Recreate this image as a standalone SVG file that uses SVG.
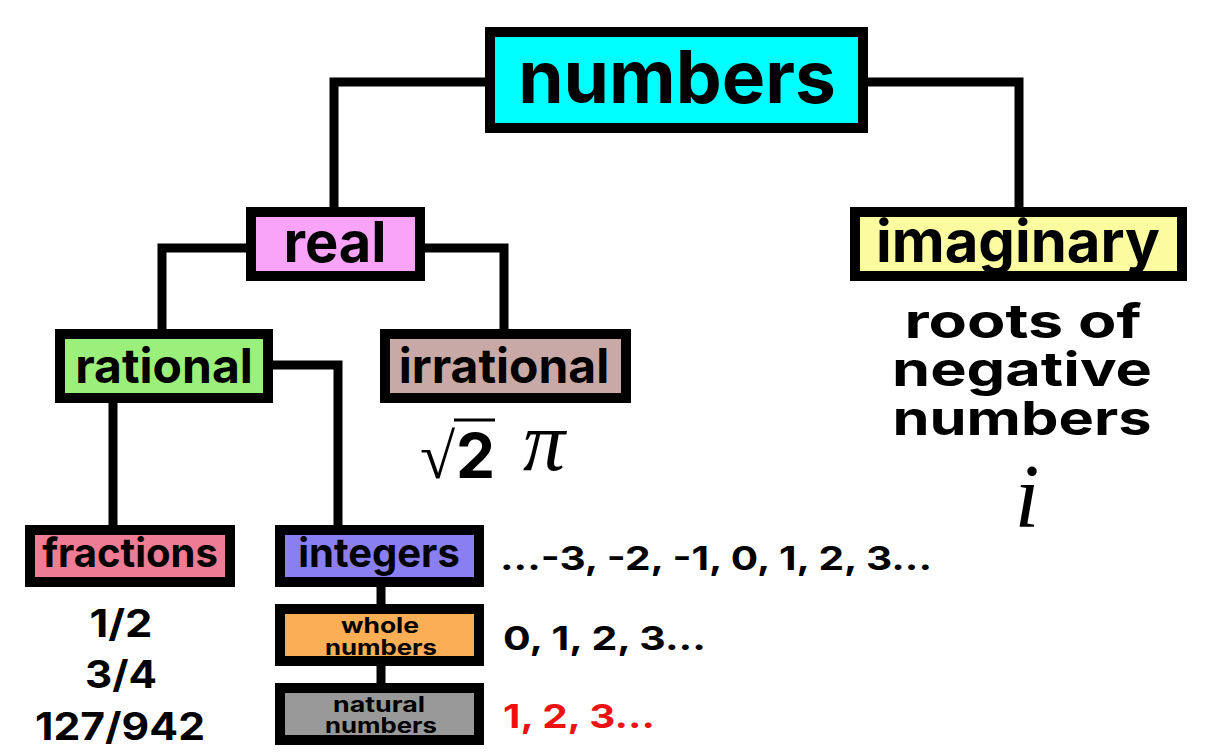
<svg xmlns="http://www.w3.org/2000/svg" width="1222" height="756" viewBox="0 0 1222 756">
<style>
.box{stroke:#000;stroke-width:10}
.lbl{font-family:Inter,"Open Sans","Liberation Sans",sans-serif;font-weight:700;fill:#000;text-anchor:middle}
.txt{font-family:Inter,"Open Sans","Liberation Sans",sans-serif;font-weight:700;fill:#000}
.con{fill:none;stroke:#000;stroke-width:9;stroke-linejoin:miter;stroke-linecap:butt}
</style>
<rect width="1222" height="756" fill="#fff"/>
<g id="connectors">
<path class="con" d="M490 82 H334 V212"/>
<path class="con" d="M863 82 H1019 V212"/>
<path class="con" d="M251 248 H162 V334"/>
<path class="con" d="M420 248 H504 V334"/>
<path class="con" d="M113 398 V530"/>
<path class="con" d="M268 365 H338 V530"/>
<path class="con" d="M381 582 V609"/>
<path class="con" d="M381 661 V688"/>
</g>
<g id="numbers">
<rect class="box" x="490" y="32" width="373" height="96" fill="#00FFFF"/>
<text class="lbl" x="677" y="103" font-size="73">numbers</text>
</g>
<g id="real">
<rect class="box" x="251" y="212" width="169" height="64" fill="#F9A3F9"/>
<text class="lbl" x="335" y="262" font-size="56">real</text>
</g>
<g id="imaginary">
<rect class="box" x="855" y="212" width="327" height="64" fill="#FBFBA0"/>
<text class="lbl" x="1018" y="262" font-size="58">imaginary</text>
</g>
<g id="imaginary-notes">
<text class="lbl" x="1023" y="338" font-size="47" textLength="237" lengthAdjust="spacingAndGlyphs">roots of</text>
<text class="lbl" x="1022" y="386" font-size="47" textLength="260" lengthAdjust="spacingAndGlyphs">negative</text>
<text class="lbl" x="1022" y="435" font-size="47" textLength="259" lengthAdjust="spacingAndGlyphs">numbers</text>
<text x="1027" y="527" font-size="90" font-family="'Liberation Serif',serif" font-style="italic" text-anchor="middle" fill="#000">i</text>
</g>
<g id="rational">
<rect class="box" x="60" y="334" width="208" height="64" fill="#9BF07B"/>
<text class="lbl" x="164" y="383" font-size="48">rational</text>
</g>
<g id="irrational">
<rect class="box" x="385" y="334" width="241" height="64" fill="#C9A9A6"/>
<text class="lbl" x="504" y="383" font-size="48">irrational</text>
</g>
<g id="irrational-notes">
<text x="420" y="478" font-size="64" font-family="'Liberation Serif',serif" fill="#000">√</text>
<line x1="454" y1="420" x2="495" y2="420" stroke="#000" stroke-width="3"/>
<text class="txt" x="456" y="478" font-size="62">2</text>
<text x="523" y="470" font-size="84" font-family="'Liberation Serif',serif" font-style="italic" fill="#000">π</text>
</g>
<g id="fractions">
<rect class="box" x="30" y="530" width="200" height="52" fill="#EE7C94"/>
<text class="lbl" x="130" y="567" font-size="40">fractions</text>
</g>
<g id="fraction-examples">
<text class="lbl" x="121" y="637" font-size="38" textLength="63" lengthAdjust="spacingAndGlyphs">1/2</text>
<text class="lbl" x="121" y="688" font-size="38" textLength="72" lengthAdjust="spacingAndGlyphs">3/4</text>
<text class="lbl" x="120" y="740" font-size="38" textLength="170" lengthAdjust="spacingAndGlyphs">127/942</text>
</g>
<g id="integers">
<rect class="box" x="280" y="530" width="199" height="52" fill="#8A7FF2"/>
<text class="lbl" x="379" y="567" font-size="40">integers</text>
<text class="txt" x="500" y="570" font-size="33" textLength="432" lengthAdjust="spacingAndGlyphs">...-3, -2, -1, 0, 1, 2, 3...</text>
</g>
<g id="whole-numbers">
<rect class="box" x="280" y="609" width="199" height="52" fill="#FCAE55"/>
<text class="lbl" x="380" y="633" font-size="21" textLength="78" lengthAdjust="spacingAndGlyphs">whole</text>
<text class="lbl" x="381" y="655" font-size="21" textLength="112" lengthAdjust="spacingAndGlyphs">numbers</text>
<text class="txt" x="503" y="650" font-size="33" textLength="203" lengthAdjust="spacingAndGlyphs">0, 1, 2, 3...</text>
</g>
<g id="natural-numbers">
<rect class="box" x="280" y="688" width="199" height="52" fill="#999999"/>
<text class="lbl" x="379" y="712" font-size="21" textLength="92" lengthAdjust="spacingAndGlyphs">natural</text>
<text class="lbl" x="381" y="733" font-size="21" textLength="112" lengthAdjust="spacingAndGlyphs">numbers</text>
<text class="txt" x="503" y="728" font-size="33" textLength="152" lengthAdjust="spacingAndGlyphs" style="fill:#EE1111">1, 2, 3...</text>
</g>
</svg>
